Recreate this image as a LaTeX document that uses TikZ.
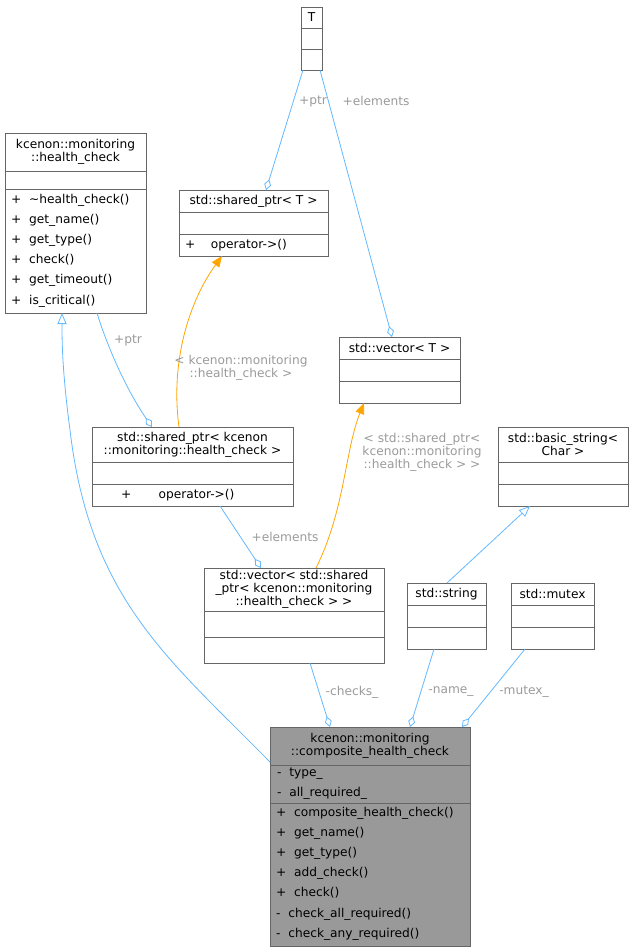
\documentclass[tikz,border=0pt]{standalone}
\usepackage{fontspec}
\setmainfont{DejaVu Sans}
\usetikzlibrary{arrows.meta}
\definecolor{edge}{HTML}{63B8FF}
\definecolor{lbl}{HTML}{9A9A9A}
\definecolor{bord}{HTML}{666666}
\definecolor{orng}{HTML}{FFA500}
\begin{document}
\begin{tikzpicture}[x=1pt,y=-1pt,
  box/.style={draw=bord,line width=0.8pt,inner sep=0,outer sep=0},
  t/.style={font=\fontsize{12.2}{13}\selectfont,inner sep=0,align=center},
  m/.style={font=\fontsize{12.2}{20.2}\selectfont,inner sep=0,align=left,anchor=west},
  l/.style={font=\fontsize{12.2}{13}\selectfont,text=lbl,inner sep=0,align=center},
  agg/.style={draw=edge,line width=0.8pt,-{Diamond[open,length=11,width=7,line width=0.8pt]}},
  inh/.style={draw=edge,line width=0.8pt,-{Triangle[open,length=11,width=9,line width=0.8pt]}},
  tmpl/.style={draw=orng,line width=0.8pt,-{Triangle[length=11,width=9]}}]
\useasboundingbox (0,0) rectangle (634,952);
\newcommand\ubox[6]{\draw[box,fill=#6] (#2,#3) rectangle (#4,#5); \path (#2,#3) coordinate (#1nw) (#4,#5) coordinate (#1se);}
% T
\ubox{T}{301}{7}{322}{70}{white}
\draw[box] (301,28)--(322,28) (301,49)--(322,49);
\node[t] (Tt) at (311.5,17.5) {T};
% health_check
\ubox{H}{5}{133}{146}{313}{white}
\draw[box] (5,171)--(146,171) (5,189)--(146,189);
\node[t] (Ht) at (75.5,152) {kcenon::monitoring\\::health\_check};
\node[m] (Hm) at (11,250.5) {+\ \ \textasciitilde health\_check()\\+\ \ get\_name()\\+\ \ get\_type()\\+\ \ check()\\+\ \ get\_timeout()\\+\ \ is\_critical()};
% shared_ptr<T>
\ubox{S}{179}{190}{328}{256}{white}
\draw[box] (179,212)--(328,212) (179,234)--(328,234);
\node[t] (St) at (253.5,201) {std::shared\_ptr< T >};
\node[m] (Sm) at (185,245) {+\ \ \ \ operator->()};
% vector<T>
\ubox{V}{339}{337}{460}{403}{white}
\draw[box] (339,359)--(460,359) (339,381)--(460,381);
\node[t] (Vt) at (399.5,348) {std::vector< T >};
% shared_ptr<hc>
\ubox{P}{92}{427}{293}{506}{white}
\draw[box] (92,462)--(293,462) (92,484)--(293,484);
\node[t] (Pt) at (192.5,444.5) {std::shared\_ptr< kcenon\\::monitoring::health\_check >};
\node[m] (Pm) at (121,495) {+\ \ \ \ \ \ \ operator->()};
% basic_string
\ubox{B}{498}{427}{628}{506}{white}
\draw[box] (498,462)--(628,462) (498,484)--(628,484);
\node[t] (Bt) at (563,444.5) {std::basic\_string<\\Char >};
% vector<shared>
\ubox{W}{204}{568}{384}{663}{white}
\draw[box] (204,611)--(384,611) (204,637)--(384,637);
\node[t] (Wt) at (294,589.5) {std::vector< std::shared\\\_ptr< kcenon::monitoring\\::health\_check > >};
% string
\ubox{G}{407}{583}{486}{649}{white}
\draw[box] (407,605)--(486,605) (407,627)--(486,627);
\node[t] (Gt) at (446.5,594) {std::string};
% mutex
\ubox{X}{511}{583}{594}{649}{white}
\draw[box] (511,605)--(594,605) (511,627)--(594,627);
\node[t] (Xt) at (552.5,594) {std::mutex};
% composite
\ubox{C}{270}{727}{470}{946}{black!40}
\draw[box] (270,765)--(470,765) (270,803)--(470,803);
\node[t] (Ct) at (370,746) {kcenon::monitoring\\::composite\_health\_check};
\node[m] (Ca) at (277,783.5) {-\ \ type\_\\-\ \ all\_required\_};
\node[m] (Cm) at (276,873.5) {+\ \ composite\_health\_check()\\+\ \ get\_name()\\+\ \ get\_type()\\+\ \ add\_check()\\+\ \ check()\\-\ \ check\_all\_required()\\-\ \ check\_any\_required()};
% edges
\draw[agg] (303,70) -- (266,190);
\node[l] (l1) at (313,101) {+ptr};
\draw[agg] (320,70) -- (392,337);
\node[l] (l2) at (376,101) {+elements};
\draw[agg] (97,313) .. controls (110,355) and (130,395) .. (152,427);
\node[l] (l3) at (128,340) {+ptr};
\draw[tmpl] (179,427) .. controls (170,360) and (190,300) .. (222,256);
\node[l] (l4) at (241,368) {< kcenon::monitoring\\::health\_check >};
\draw[tmpl] (316,568) .. controls (345,510) and (345,450) .. (364,403);
\node[l] (l5) at (422,452) {< std::shared\_ptr<\\kcenon::monitoring\\::health\_check > >};
\draw[agg] (220,506) -- (261,568);
\node[l] (l6) at (285,537) {+elements};
\draw[agg] (310,663) -- (330,727);
\node[l] (l7) at (352,692) {-checks\_};
\draw[agg] (434,649) -- (410,727);
\node[l] (l8) at (451,692) {-name\_};
\draw[agg] (525,649) -- (462,727);
\node[l] (l9) at (524,692) {-mutex\_};
\draw[inh] (447,583) -- (530,506);
\draw[inh] (270,762) .. controls (170,660) and (90,600) .. (70,430) .. controls (62,370) and (62,340) .. (62,313);
\end{tikzpicture}
\end{document}
